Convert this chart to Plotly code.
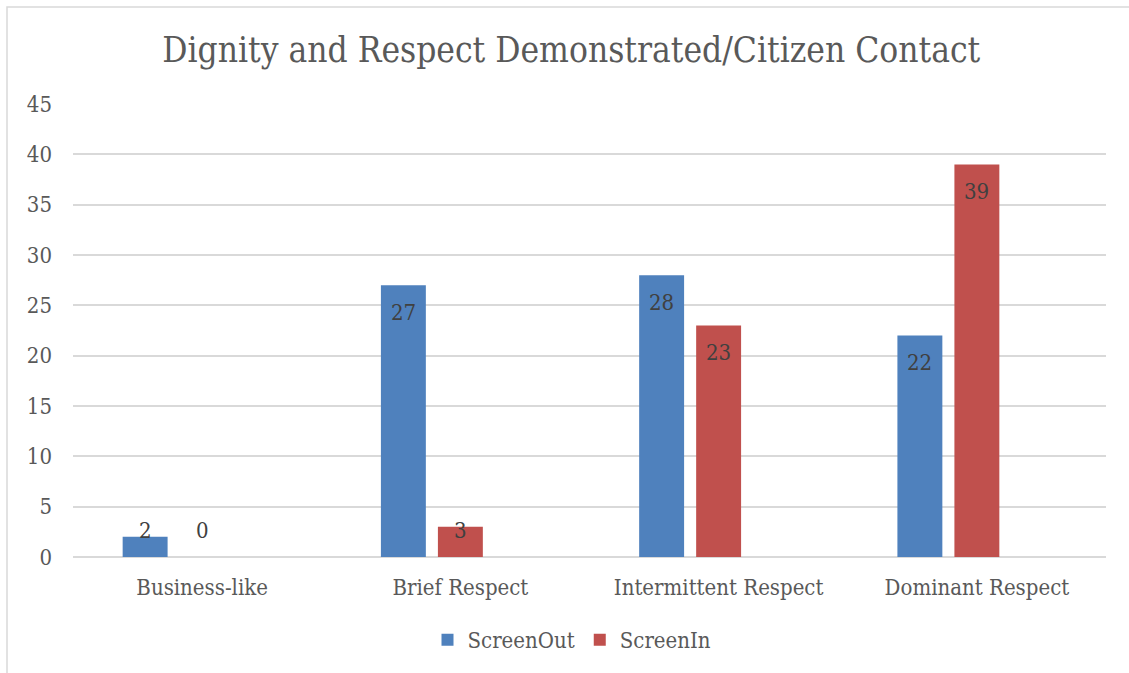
import plotly.graph_objects as go

# Chart data
categories = ["Business-like", "Brief Respect", "Intermittent Respect", "Dominant Respect"]
screen_out = [2, 27, 28, 22]
screen_in = [0, 3, 23, 39]
y_ticks = [0, 5, 10, 15, 20, 25, 30, 35, 40, 45]

FONT = "DejaVu Serif Condensed"
BLUE = "#4F81BD"
RED = "#C0504D"
GRID = "#D9D9D9"

W, H = 1129, 673
ML, MR, MT, MB = 73, 23, 104, 116
plot_w = W - ML - MR
plot_h = H - MT - MB

# Excel-style clustered layout with three slots per category (third slot empty)
slot = 0.2207     # slot spacing in category units
bar_w = 0.174     # bar width in category units
x_idx = list(range(len(categories)))

fig = go.Figure()
series = [("ScreenOut", screen_out, BLUE, -slot), ("ScreenIn", screen_in, RED, 0.0)]
for name, vals, color, center in series:
    fig.add_trace(go.Bar(
        name=name, x=x_idx, y=vals,
        width=bar_w, offset=center - bar_w / 2,
        marker=dict(color=color, line=dict(width=0)),
        hoverinfo="y+name",
    ))

# Value labels near the top inside each bar
for name, vals, color, center in series:
    for i, v in enumerate(vals):
        fig.add_annotation(
            x=i + center, y=max(v, 5.3) - 2.7, text=str(v), showarrow=False,
            font=dict(family=FONT, size=22, color="#404040"),
            xanchor="center", yanchor="middle",
        )

# Light border around the chart area
px_x = lambda p: (p - ML) / plot_w
px_y = lambda p: (H - MB - p) / plot_h
fig.add_shape(type="rect", xref="paper", yref="paper",
              x0=px_x(7), x1=px_x(W + 10), y0=px_y(H + 10), y1=px_y(7),
              line=dict(color=GRID, width=1.5), fillcolor="rgba(0,0,0,0)", layer="below")

fig.update_layout(
    width=W, height=H,
    margin=dict(l=ML, r=MR, t=MT, b=MB),
    paper_bgcolor="white", plot_bgcolor="white",
    barmode="overlay",
    title=dict(text="Dignity and Respect Demonstrated/Citizen Contact",
               font=dict(family=FONT, size=35, color="#595959"),
               x=0.506, xref="container", xanchor="center",
               y=1 - 50 / H, yref="container", yanchor="middle"),
    font=dict(family=FONT, color="#595959"),
    showlegend=True,
    legend=dict(orientation="h", x=572 / W, xref="container", xanchor="center",
                y=1 - 640 / H, yref="container", yanchor="middle",
                font=dict(family=FONT, size=22, color="#595959"),
                itemsizing="constant", traceorder="normal"),
    xaxis=dict(tickmode="array", tickvals=x_idx, ticktext=categories,
               range=[-0.5, len(categories) - 0.5],
               showgrid=False, zeroline=False, showline=False,
               tickfont=dict(family=FONT, size=22, color="#595959"),
               ticks="", ticklabelstandoff=15, fixedrange=True),
    yaxis=dict(range=[0, 45], tickvals=y_ticks, showgrid=True, gridcolor=GRID, gridwidth=1.5,
               zeroline=True, zerolinecolor=GRID, zerolinewidth=1.5, showline=False,
               tickfont=dict(family=FONT, size=22, color="#595959"),
               ticks="", ticklabelstandoff=20, fixedrange=True),
)

fig.write_html("out.html")
